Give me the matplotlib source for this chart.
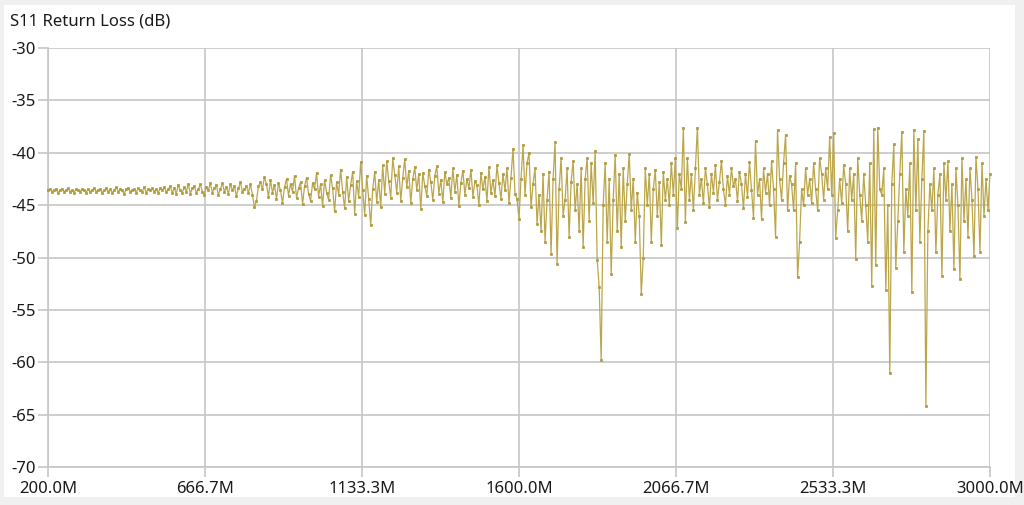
import numpy as np
import matplotlib
matplotlib.use("Agg")
import matplotlib.pyplot as plt
from matplotlib.patches import Rectangle

# ---- data (S11 return loss in dB) ----
f_start_mhz = 200.0
f_stop_mhz = 3000.0

seg_a1 = [-43.6,-43.5,-43.7,-43.6,-43.5,-43.8,-43.6,-43.5,-43.7,-43.6,
          -43.4,-43.7,-43.6,-43.8,-43.5,-43.6,-43.7,-43.5,-43.6,-43.8,
          -43.5,-43.7,-43.6,-43.4,-43.7,-43.6,-43.5,-43.8,-43.6,-43.4,
          -43.7,-43.5,-43.8,-43.6,-43.3,-43.7,-43.5,-43.6,-43.9,-43.5,
          -43.4,-43.7,-43.6,-43.5,-43.8,-43.4,-43.6,-43.7,-43.3,-43.8,
          -43.5,-43.6,-43.4,-43.7,-43.5,-43.8,-43.4,-43.6,-43.3,-43.7,-43.5]
seg_a2 = [-43.2,-43.8,-43.4,-43.9,-43.1,-43.6,-43.8,-43.3,-43.7,-43.0,
          -43.9,-43.4,-43.2,-43.8,-43.5,-43.0,-43.7,-44.0,-43.3,-43.6,
          -42.9,-43.8,-43.4,-43.1,-44.0,-43.5,-42.9,-43.7,-43.3,-43.9,
          -43.0,-43.6,-43.2,-44.1,-43.4,-42.8,-43.7,-43.5,-43.2,-43.8]
seg_b = [-43.0,-44.0,-45.2,-44.6,-43.2,-42.8,-43.5,-42.3,-43.0,-44.2,
         -42.6,-43.8,-43.1,-44.4,-42.9,-43.6,-44.8,-43.3,-42.5,-44.1,
         -43.0,-43.7,-42.2,-44.3,-43.4,-42.8,-44.9,-43.2,-42.4,-43.9,
         -44.6,-42.9,-43.5,-41.9,-44.2,-43.0,-45.1,-42.6,-43.8,-44.5,
         -42.1,-43.4,-45.6,-42.8,-44.0,-41.6,-43.7,-45.3,-42.3,-44.6,
         -43.1,-41.8,-45.8,-42.7,-44.2,-40.9,-43.6,-45.9,-42.2,-44.4]
seg_c = [-46.9,-43.5,-41.8,-44.7,-42.6,-45.2,-41.2,-43.9,-40.8,-42.7,
         -44.3,-40.5,-42.1,-43.8,-41.3,-44.6,-42.4,-40.6,-43.3,-41.7,
         -44.8,-42.5,-41.4,-43.6,-42.0,-45.4,-41.9,-43.2,-44.1,-41.6,
         -42.8,-44.5,-42.2,-41.3,-43.9,-42.6,-44.7,-41.8,-43.0,-42.4,
         -44.3,-41.5,-43.7,-42.1,-45.1,-42.9,-41.7,-44.0,-42.5,-43.4,
         -41.6,-44.2,-42.7,-43.1,-45.0,-41.9,-43.5,-42.3,-44.6,-41.4,
         -43.8,-42.6,-44.1,-41.2,-42.9,-44.4,-42.0,-43.6,-41.5,-44.8,
         -42.4,-39.6,-43.9,-44.4,-46.3]
seg_d = [-42.5,-39.3,-44.0,-41.0,-40.0,-45.2,-43.0,-41.5,-46.8,-44.0,
         -47.5,-42.0,-48.5,-44.5,-41.8,-49.7,-42.5,-39.0,-50.6,-43.5,
         -40.5,-46.0,-44.5,-41.5,-48.0,-42.8,-40.8,-45.5,-43.0,-47.5,
         -41.5,-49.0,-42.5,-40.5,-46.5,-41.0,-44.8,-39.8,-50.2,-52.8]
seg_e = [-59.8,-45.0,-41.0,-48.5,-42.5,-51.6,-44.5,-40.2,-47.5,-42.0,
         -49.0,-41.5,-46.5,-43.0,-40.1,-45.5,-42.5,-48.5,-43.8,-46.0,
         -53.5,-50.0,-41.5,-45.0,-42.0,-48.5,-43.5,-41.6,-46.0,-42.8,
         -48.8,-41.8,-44.5,-42.5,-45.0,-41.0,-44.0,-40.5,-47.2,-42.0,
         -43.5,-37.6,-46.6,-40.5,-44.5,-42.0,-45.5,-41.5,-37.6,-44.0]
seg_f = [-42.5,-44.8,-41.5,-43.0,-45.2,-42.0,-43.8,-41.2,-44.5,-42.8,
         -40.8,-43.5,-45.0,-42.2,-44.0,-41.5,-43.2,-42.5,-44.6,-41.8,
         -43.0,-45.3,-42.0,-44.2,-40.9,-43.6,-46.2,-38.9,-44.0,-42.5,
         -46.3,-41.5,-43.8,-42.0,-45.0,-40.8,-43.5,-48.0,-37.8,-42.5,
         -44.5,-41.0,-38.3,-45.5,-42.2]
seg_g = [-43.0,-45.5,-41.0,-51.9,-48.5,-43.5,-45.0,-41.5,-44.0,-42.5,
         -44.8,-41.0,-43.5,-45.5,-40.5,-42.0,-44.5,-41.5,-43.5,-38.5,
         -44.0,-38.1,-48.1,-45.5,-42.5,-44.8,-41.2,-43.0,-47.5,-41.5,
         -44.5,-42.0,-50.1,-40.5,-44.0,-46.5,-42.0,-45.0,-48.5,-41.0,
         -52.7,-37.7,-50.7,-37.6,-43.5]
seg_h = [-44.0,-41.5,-53.1,-45.0,-61.0,-43.0,-39.2,-51.0,-46.5,-42.0,
         -38.0,-49.5,-43.5,-46.0,-41.0,-53.3,-37.8,-45.5,-38.7,-48.5,
         -42.5,-37.9,-64.2,-47.5,-43.0,-45.5,-41.5,-49.5,-44.0,-42.0]
seg_i = [-51.8,-41.0,-44.5,-40.8,-47.5,-43.0,-51.1,-41.5,-45.0,-52.1,
         -40.5,-46.5,-42.5,-48.0,-41.5,-44.5,-49.9,-40.4,-43.5,-49.5,
         -41.0,-46.0,-42.5,-45.5,-42.0]

x_tick_labels = ["200.0M", "666.7M", "1133.3M", "1600.0M", "2066.7M", "2533.3M", "3000.0M"]
y_ticks = [-30, -35, -40, -45, -50, -55, -60, -65, -70]
title_text = "S11 Return Loss (dB)"

s11_db = np.array(seg_a1 + seg_a2 + seg_b + seg_c + seg_d + seg_e + seg_f + seg_g + seg_h + seg_i)
freq_mhz = np.linspace(f_start_mhz, f_stop_mhz, len(s11_db))  # sweep points
x_ticks = np.linspace(f_start_mhz, f_stop_mhz, len(x_tick_labels))

# ---- figure ----
plt.rcParams['font.family'] = ['Noto Sans', 'DejaVu Sans']
W, H = 1024, 505
fig = plt.figure(figsize=(W / 100, H / 100), dpi=100, facecolor='#f0f0f0')
fig.patches.append(Rectangle((4 / W, 8 / H), (1015 - 4) / W, (500 - 8) / H,
                             transform=fig.transFigure, facecolor='white',
                             edgecolor='none', zorder=-10))

ax = fig.add_axes([48 / W, 38 / H, (990 - 48) / W, (467 - 48) / H])
ax.set_zorder(5)
ax.set_facecolor('white')
trace_color = '#bba64a'
ax.plot(freq_mhz, s11_db, color=trace_color, lw=0.9, marker='s', ms=1.6,
        mfc='#ad9b3c', mec='#ad9b3c', mew=0.5, zorder=3, clip_on=False)

ax.set_xlim(f_start_mhz, f_stop_mhz)
ax.set_ylim(-70, -30)
ax.set_xticks(x_ticks)
ax.set_xticklabels(x_tick_labels)
ax.set_yticks(y_ticks)
ax.set_yticklabels([str(v) for v in y_ticks])

grid_c = '#c6c6c6'
ax.grid(True, color=grid_c, lw=1.2, zorder=1)
ax.set_axisbelow(True)
for side in ['top', 'right']:
    ax.spines[side].set_visible(False)
for side in ['left', 'bottom']:
    ax.spines[side].set_color(grid_c)
    ax.spines[side].set_linewidth(1.2)
ax.tick_params(axis='both', colors=grid_c, labelcolor='#1a1a1a', labelsize=12,
               length=7, width=1.2)
ax.tick_params(axis='x', pad=3)
ax.tick_params(axis='y', pad=2)

fig.text(10 / W, 1 - 22 / H, title_text, fontsize=12, color='#1a1a1a',
         ha='left', va='center')

fig.savefig("out.png", dpi=100, facecolor=fig.get_facecolor())
